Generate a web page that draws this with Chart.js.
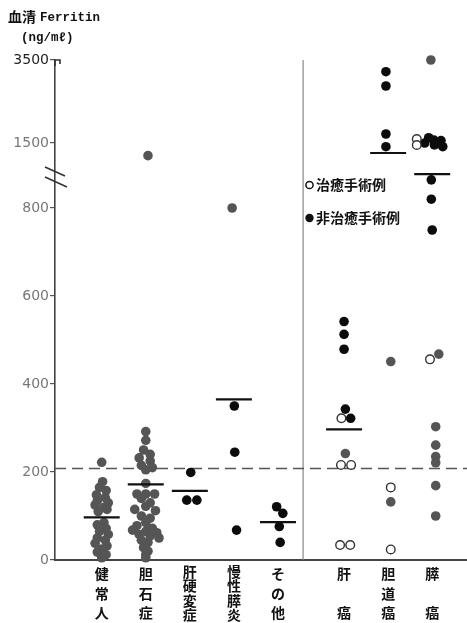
<!DOCTYPE html>
<html><head><meta charset="utf-8">
<script src="https://cdn.jsdelivr.net/npm/chart.js@4"></script>
<style>html,body{margin:0;padding:0;background:#fff}#wrap{width:467px;height:623px;position:relative}</style>
</head><body><div id="wrap"><canvas id="c" width="467" height="623"></canvas></div>
<script>
// ---- categories & tick labels ----
const categories = [['健','常','人'],['胆','石','症'],['肝','硬','変','症'],['慢','性','膵','炎'],['そ','の','他'],['肝','','癌'],['胆','道','癌'],['膵','','癌']];
const catPos = [1, 2, 3, 4, 5, 6.5, 7.5, 8.5];
const yTicks = [0, 200, 400, 600, 800, 1500, 3500];

// ---- values (ng/ml) per group; kind: g = grey dot, b = black dot, o = open (治癒手術例) ----
const healthyVals = [222,178,165,158,148,142,135,130,125,120,115,110,85,80,72,65,58,50,45,38,32,25,18,12,5];
const healthyJit  = [0,0.02,-0.05,0.1,-0.12,0.08,-0.1,0.15,-0.15,0.05,0.12,-0.08,0.05,-0.1,0.1,-0.05,0.15,-0.1,0.08,-0.15,0.12,0,-0.1,0.1,0];
const healthyKind = 'ggggggggggggggggggggggggg';

const gallVals = [1237,292,272,250,240,232,225,215,210,205,174,150,150,150,140,130,122,115,112,100,95,85,78,72,68,65,62,58,55,50,45,40,35,28,20,12,5];
const gallJit  = [0.05,0,0,-0.05,0.1,-0.15,0.1,-0.1,0.15,0,0,-0.2,0,0.2,-0.1,0.1,0,-0.25,0.22,-0.1,0.1,0,-0.2,0.15,-0.3,0,0.25,-0.15,0.1,0.3,-0.1,0.05,0,-0.05,0.05,0,0];
const gallKind = 'ggggggggggggggggggggggggggggggggggggg';

const cirrVals = [199,136,136];
const cirrJit  = [0.02,-0.07,0.16];
const cirrKind = 'bbb';

const pancVals = [800,350,245,68];
const pancJit  = [-0.04,0.01,0.02,0.06];
const pancKind = 'gbbb';

const otherVals = [121,106,76,40];
const otherJit  = [-0.03,0.11,0.03,0.05];
const otherKind = 'bbbb';

const liverCaVals = [542,513,479,343,322,322,242,216,216,34,34];
const liverCaJit  = [0,0,0,0.03,0.15,-0.06,0.03,-0.07,0.16,-0.09,0.14];
const liverCaKind = 'bbbbbogoooo';

const bileCaVals = [3218,2874,1717,1423,451,165,132,24];
const bileCaJit  = [-0.05,-0.05,-0.05,-0.05,0.06,0.06,0.06,0.06];
const bileCaKind = 'bbbbgogo';

const pancCaVals = [3500,1628,1596,1572,1560,1500,1460,1459,1423,864,820,750,468,456,303,261,235,221,169,100];
const pancCaJit  = [-0.03,-0.08,-0.35,0.04,0.2,-0.17,0.05,-0.35,0.24,-0.02,-0.02,0,0.15,-0.05,0.08,0.08,0.08,0.08,0.08,0.08];
const pancCaKind = 'gbobbbbobbbbgogggggg';

const means = [97, 172, 157, 365, 86, 297, 1292, 877];
const cutoff = 208;
const separatorX = 5.57;

const groups = [
  [healthyVals, healthyJit, healthyKind],
  [gallVals, gallJit, gallKind],
  [cirrVals, cirrJit, cirrKind],
  [pancVals, pancJit, pancKind],
  [otherVals, otherJit, otherKind],
  [liverCaVals, liverCaJit, liverCaKind],
  [bileCaVals, bileCaJit, bileCaKind],
  [pancCaVals, pancCaJit, pancCaKind]
];

// broken-axis mapping (0-880 linear, then compressed segments)
function toAxis(v){
  if (v <= 880) return v;
  if (v <= 1500) return 880 + (v - 880) * 67.7 / 620;
  return 947.7 + (v - 1500) * 188.7 / 2000;
}
const yMax = toAxis(3500);

const grey = [], black = [], open = [];
groups.forEach((g, ci) => {
  const [vals, jit, kind] = g;
  vals.forEach((v, i) => {
    const pt = {x: catPos[ci] + jit[i], y: toAxis(v)};
    const k = kind[i];
    if (k === 'g') grey.push(pt); else if (k === 'b') black.push(pt); else open.push(pt);
  });
});
const meanPts = means.map((m, i) => ({x: catPos[i], y: toAxis(m)}));

const cjk = '"Noto Sans CJK JP"';

const extras = {
  id: 'extras',
  afterDraw(chart){
    const ctx = chart.ctx;
    const ys = chart.scales.y, xs = chart.scales.x;
    ctx.save();
    // break mark on y axis
    const x0 = xs.left, yc = ys.getPixelForValue(875);
    ctx.strokeStyle = '#333'; ctx.lineWidth = 1.6;
    ctx.beginPath();
    ctx.moveTo(x0 - 10, yc - 8); ctx.lineTo(x0 + 10, yc + 1);
    ctx.moveTo(x0 - 10, yc + 2); ctx.lineTo(x0 + 12, yc + 12);
    ctx.stroke();
    // top hook
    ctx.beginPath(); ctx.lineWidth = 1.6;
    ctx.moveTo(x0, ys.top + 6); ctx.lineTo(x0, ys.top); ctx.lineTo(x0 + 5, ys.top); ctx.lineTo(x0 + 5, ys.top + 4);
    ctx.stroke();
    // title
    ctx.fillStyle = '#111'; ctx.textBaseline = 'middle'; ctx.textAlign = 'left';
    ctx.font = 'bold 14px ' + cjk;
    ctx.fillText('血清', 8, 17);
    ctx.font = 'bold 12.5px "Liberation Mono", monospace';
    ctx.fillText('Ferritin', 40, 18);
    ctx.font = 'bold 12.5px "Liberation Mono", "DejaVu Sans Mono", monospace';
    ctx.fillText('(ng/mℓ)', 21, 38);
    // legend
    ctx.lineWidth = 1.5; ctx.strokeStyle = '#111'; ctx.fillStyle = '#fff';
    ctx.beginPath(); ctx.arc(309.5, 185, 3.6, 0, Math.PI * 2); ctx.fill(); ctx.stroke();
    ctx.fillStyle = '#111';
    ctx.beginPath(); ctx.arc(309.5, 218, 4.2, 0, Math.PI * 2); ctx.fill();
    ctx.font = 'bold 14px ' + cjk;
    ctx.fillText('治癒手術例', 316, 185);
    ctx.fillText('非治癒手術例', 316, 218);
    ctx.restore();
  }
};

new Chart(document.getElementById('c'), {
  type: 'scatter',
  data: {
    datasets: [
      {label: 'mean', data: meanPts, pointStyle: 'line', pointRadius: 18, borderWidth: 2.2, borderColor: '#111', backgroundColor: '#111', clip: false},
      {label: '治癒手術例', data: open, pointRadius: 4.3, borderWidth: 1.4, borderColor: '#333', backgroundColor: '#fff', clip: false},
      {label: '非治癒', data: black, pointRadius: 4.8, borderWidth: 0, backgroundColor: '#0c0c0c', borderColor: '#0c0c0c', clip: false},
      {label: 'grey', data: grey, pointRadius: 4.8, borderWidth: 0, backgroundColor: '#555', borderColor: '#555', clip: false},
      {type: 'line', label: 'cutoff', data: [{x: -0.06, y: cutoff}, {x: 9.29, y: cutoff}], borderColor: '#555', borderWidth: 1.5, borderDash: [11, 6], pointRadius: 0, fill: false},
      {type: 'line', label: 'sep', data: [{x: separatorX, y: 0}, {x: separatorX, y: yMax}], borderColor: '#888', borderWidth: 1.2, pointRadius: 0, fill: false}
    ]
  },
  options: {
    responsive: false,
    devicePixelRatio: 1,
    animation: false,
    layout: {autoPadding: false, padding: {top: 60, right: 0, left: 0, bottom: 0}},
    plugins: {legend: {display: false}, tooltip: {enabled: false}},
    scales: {
      x: {
        type: 'linear', min: -0.06, max: 9.29,
        grid: {display: false},
        border: {display: true, color: '#444', width: 2},
        afterBuildTicks: s => { s.ticks = catPos.map(v => ({value: v})); },
        afterFit: s => { s.height = 63; s.paddingLeft = 0; s.paddingRight = 0; },
        ticks: {
          autoSkip: false, maxRotation: 0, minRotation: 0, padding: -4, color: '#111',
          callback: (v, i) => categories[i],
          font: c => ({family: cjk, size: 14, weight: 'bold', lineHeight: (categories[c.index] && categories[c.index].length === 4) ? '14.5px' : '19.5px'})
        }
      },
      y: {
        type: 'linear', min: 0, max: yMax,
        grid: {drawOnChartArea: false, tickLength: 5, color: '#555', lineWidth: 1.2},
        border: {display: true, color: '#444', width: 1.6},
        afterBuildTicks: s => { s.ticks = yTicks.map(v => ({value: toAxis(v)})); },
        afterFit: s => { s.width = 55; },
        ticks: {
          padding: 1,
          callback: (v, i) => String(yTicks[i]),
          color: c => c.index === yTicks.length - 1 ? '#222' : '#777',
          font: {family: '"DejaVu Sans"', size: 14}
        }
      }
    }
  },
  plugins: [extras]
});
</script></body></html>
